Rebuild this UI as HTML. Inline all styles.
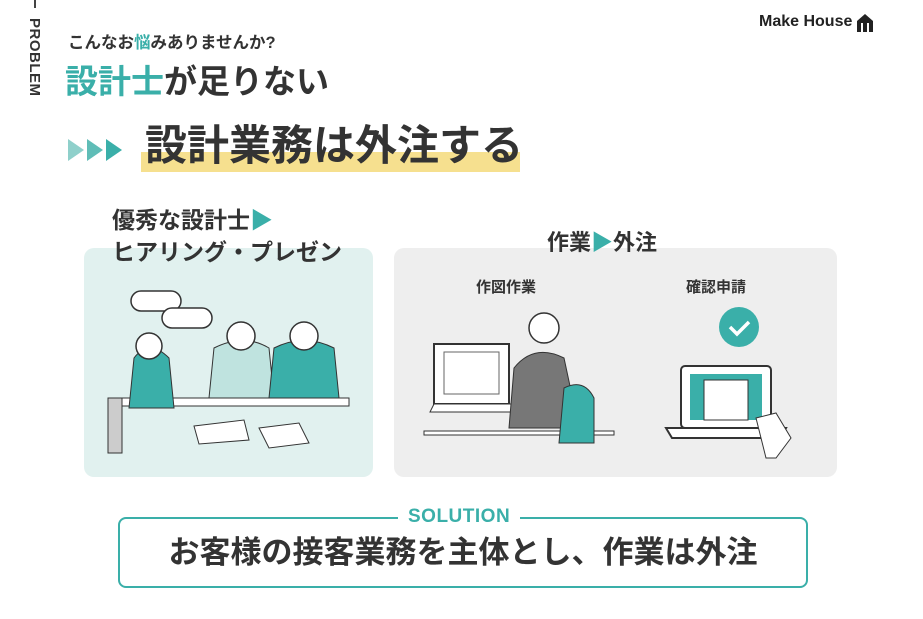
<!DOCTYPE html>
<html><head><meta charset="utf-8"><style>
body{margin:0;width:923px;height:619px;background:#fff;position:relative;overflow:hidden;font-family:"Liberation Sans","Noto Sans CJK JP",sans-serif;color:#333;font-weight:bold}
.a{position:absolute;white-space:nowrap}
.t{color:#3aafa9}
</style></head><body>
<div class="a" style="left:34px;top:0;width:2px;height:8px;background:#444"></div>
<div class="a" style="left:22px;top:18px;font-size:15px;transform-origin:0 0;transform:translate(21px,0) rotate(90deg);letter-spacing:0.5px">PROBLEM</div>
<div class="a" style="left:68px;top:29px;font-size:16.5px">こんなお<span class="t">悩</span>みありませんか?</div>
<div class="a" style="left:65px;top:60px;font-size:33px;line-height:44px"><span class="t">設計士</span>が足りない</div>
<svg class="a" style="left:68px;top:139px" width="56" height="22"><polygon points="0,0 16,11 0,22" fill="#8fd0cb"/><polygon points="19,0 35,11 19,22" fill="#5fbdb7"/><polygon points="38,0 54,11 38,22" fill="#3aafa9"/></svg>
<div class="a" style="left:141px;top:152px;width:379px;height:20px;background:#f6e08f"></div>
<div class="a" style="left:145px;top:118px;font-size:42px;line-height:56px;color:#333">設計業務は外注する</div>
<div class="a" style="left:759px;top:13px;font-size:16px;color:#222">Make House</div>
<svg class="a" style="left:856px;top:13px" width="18" height="20"><path d="M1,19 V8 L9,1 L17,8 V19 H13 V10 H11 V19 H7 V10 H5 V19 Z" fill="#222"/></svg>

<div class="a" style="left:84px;top:248px;width:289px;height:229px;background:#e1f1ef;border-radius:10px"></div>
<div class="a" style="left:394px;top:248px;width:443px;height:229px;background:#eeeeee;border-radius:10px"></div>
<div class="a" style="left:112px;top:204px;font-size:23px;line-height:32px">優秀な設計士<span class="t">▶</span><br>ヒアリング・プレゼン</div>
<div class="a" style="left:547px;top:227px;font-size:22px;line-height:32px">作業<span class="t">▶</span>外注</div>
<div class="a" style="left:476px;top:276px;font-size:15px">作図作業</div>
<div class="a" style="left:686px;top:276px;font-size:15px">確認申請</div>

<svg class="a" style="left:84px;top:248px" width="289" height="229">
<rect x="47" y="43" width="50" height="20" rx="10" fill="#fff" stroke="#333" stroke-width="1.5"/>
<rect x="78" y="60" width="50" height="20" rx="10" fill="#fff" stroke="#333" stroke-width="1.5"/>
<rect x="25" y="150" width="240" height="8" fill="#fff" stroke="#333"/>
<path d="M50,110 q15,-20 35,0 l5,50 h-45z" fill="#3aafa9" stroke="#333"/>
<circle cx="65" cy="98" r="13" fill="#fff" stroke="#333" stroke-width="1.5"/>
<path d="M130,100 q30,-15 55,0 l5,50 h-65z" fill="#bfe3df" stroke="#333"/>
<circle cx="157" cy="88" r="14" fill="#fff" stroke="#333" stroke-width="1.5"/>
<path d="M190,100 q30,-15 60,0 l5,50 h-70z" fill="#3aafa9" stroke="#333"/>
<circle cx="220" cy="88" r="14" fill="#fff" stroke="#333" stroke-width="1.5"/>
<rect x="24" y="150" width="14" height="55" fill="#ccc" stroke="#333"/>
<polygon points="110,178 160,172 165,192 115,196" fill="#fff" stroke="#333"/>
<polygon points="175,180 215,175 225,195 185,200" fill="#fff" stroke="#333"/>
</svg>

<svg class="a" style="left:394px;top:248px" width="443" height="229">
<rect x="40" y="96" width="75" height="60" fill="#fff" stroke="#333" stroke-width="2"/>
<rect x="50" y="104" width="55" height="42" fill="#fff" stroke="#666"/>
<path d="M40,156 l-4,8 h120 l-8,-8z" fill="#fff" stroke="#333"/>
<rect x="30" y="183" width="190" height="4" fill="#fff" stroke="#333"/>
<path d="M120,120 q20,-25 50,-10 l15,70 h-70z" fill="#777" stroke="#333"/>
<circle cx="150" cy="80" r="15" fill="#fff" stroke="#333" stroke-width="1.5"/>
<path d="M170,140 q20,-10 30,10 v45 h-35z" fill="#3aafa9" stroke="#333"/>
<circle cx="345" cy="79" r="20" fill="#3aafa9"/>
<path d="M336,79 l7,7 l12,-12" fill="none" stroke="#fff" stroke-width="3.5"/>
<rect x="287" y="118" width="90" height="62" rx="4" fill="#fff" stroke="#333" stroke-width="2"/>
<rect x="296" y="126" width="72" height="46" fill="#3aafa9"/>
<rect x="310" y="132" width="44" height="40" fill="#fff" stroke="#333"/>
<path d="M272,180 h120 l-6,10 h-108z" fill="#fff" stroke="#333" stroke-width="2"/>
<path d="M362,170 l20,-5 l15,25 l-15,20 h-10z" fill="#fff" stroke="#333"/>
</svg>

<div class="a" style="left:118px;top:517px;width:686px;height:67px;border:2px solid #3aafa9;border-radius:8px"></div>
<div class="a" style="left:398px;top:503px;padding:0 10px;background:#fff;font-size:19px;line-height:28px;color:#3aafa9;letter-spacing:0.5px">SOLUTION</div>
<div class="a" style="left:118px;top:532px;width:690px;text-align:center;font-size:31px;line-height:42px">お客様の接客業務を主体とし、作業は外注</div>
</body></html>
